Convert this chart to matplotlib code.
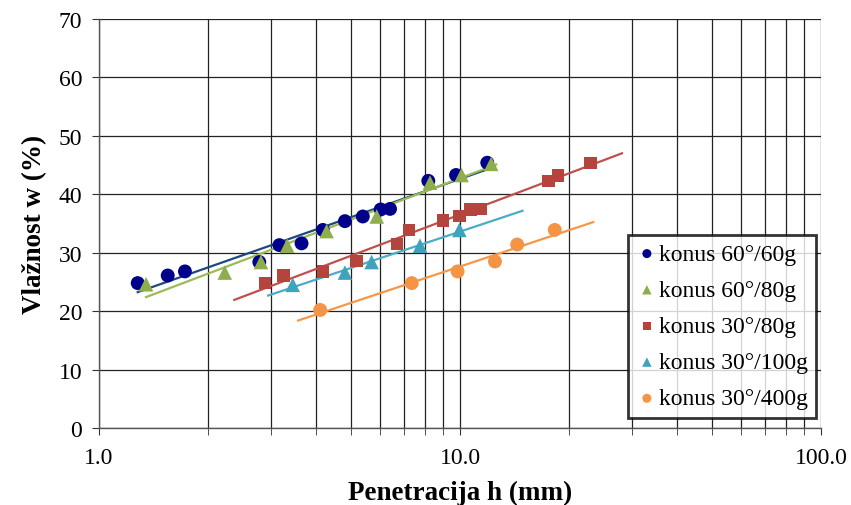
import numpy as np
import matplotlib
matplotlib.use("Agg")
import matplotlib.pyplot as plt
from matplotlib.ticker import FixedLocator, FuncFormatter, LogLocator, NullFormatter

# Cone penetration results: penetration h (mm) vs. water content w (%)
labels = ["konus 60°/60g", "konus 60°/80g", "konus 30°/80g",
          "konus 30°/100g", "konus 30°/400g"]

h_60_60 = [1.28, 1.55, 1.73, 2.78, 3.16, 3.64, 4.17, 4.80, 5.38, 6.03, 6.40, 8.17, 9.75, 11.9]
w_60_60 = [24.8, 26.1, 26.8, 28.4, 31.3, 31.6, 33.9, 35.4, 36.2, 37.4, 37.5, 42.3, 43.3, 45.4]

h_60_80 = [1.35, 2.23, 2.81, 3.32, 4.27, 5.88, 8.26, 10.1, 12.2]
w_60_80 = [24.6, 26.6, 28.4, 31.2, 33.7, 36.2, 42.0, 43.3, 45.2]

h_30_80 = [2.88, 3.24, 4.17, 5.17, 6.68, 7.22, 8.96, 9.96, 10.7, 11.4, 17.6, 18.7, 23.0]
w_30_80 = [24.8, 26.1, 26.8, 28.6, 31.5, 33.9, 35.5, 36.3, 37.4, 37.5, 42.3, 43.2, 45.4]

h_30_100 = [3.44, 4.80, 5.69, 7.75, 9.96]
w_30_100 = [24.5, 26.6, 28.4, 31.2, 33.9]

h_30_400 = [4.10, 7.35, 9.85, 12.5, 14.4, 18.3]
w_30_400 = [20.2, 24.8, 26.8, 28.5, 31.4, 33.9]

# span of each logarithmic trend line (mm)
trend_ranges = [(1.28, 11.9), (1.35, 12.6), (2.37, 28.1), (2.94, 14.9), (3.56, 23.4)]

x_ticks = [1.0, 10.0, 100.0]
y_ticks = [0, 10, 20, 30, 40, 50, 60, 70]

series = [
    (h_60_60, w_60_60, "o", "#00008B", "#1F497D", 100),
    (h_60_80, w_60_80, "^", "#8EAE4E", "#9BBB59", 110),
    (h_30_80, w_30_80, "s", "#B5443F", "#C0504D", 80),
    (h_30_100, w_30_100, "^", "#3FA3BE", "#4BACC6", 110),
    (h_30_400, w_30_400, "o", "#F59444", "#F79646", 100),
]

plt.rcParams["font.family"] = ["Liberation Serif", "DejaVu Serif"]

fig = plt.figure(figsize=(8.51, 5.06), dpi=100)
ax = fig.add_axes([99 / 851, 1 - 429 / 506, (821 - 99) / 851, (429 - 20) / 506])

ax.set_xscale("log")
ax.set_xlim(1, 100)
ax.set_ylim(0, 70)

# grid: major and minor verticals, horizontals every 10
ax.xaxis.set_major_locator(FixedLocator(x_ticks))
ax.xaxis.set_minor_locator(LogLocator(base=10, subs=np.arange(2, 10)))
ax.xaxis.set_minor_formatter(NullFormatter())
ax.xaxis.set_major_formatter(FuncFormatter(lambda v, p: f"{v:.1f}"))
ax.yaxis.set_major_locator(FixedLocator(y_ticks))
ax.grid(True, which="major", color="#222222", linewidth=0.9)
ax.grid(True, which="minor", axis="x", color="#222222", linewidth=0.9)
ax.set_axisbelow(True)

for s in ["top", "right"]:
    ax.spines[s].set_visible(False)
for s in ["left", "bottom"]:
    ax.spines[s].set_color("#555555")
    ax.spines[s].set_linewidth(1.0)

ax.tick_params(axis="both", which="both", direction="out", length=5,
               color="#333333", labelsize=17)
ax.tick_params(axis="y", which="major", pad=7)
ax.tick_params(axis="x", which="major", pad=9)

handles = []
for (h, w, m, mc, lc, size), lab, (t0, t1) in zip(series, labels, trend_ranges):
    h = np.asarray(h)
    w = np.asarray(w)
    k, b = np.polyfit(np.log(h), w, 1)
    xt = np.array([t0, t1])
    ax.plot(xt, k * np.log(xt) + b, color=lc, linewidth=1.6, zorder=3)
    sc = ax.scatter(h, w, marker=m, s=size, color=mc, edgecolors="none",
                    zorder=4, label=lab)
    handles.append(sc)

ax.set_xlabel("Penetracija h (mm)", fontsize=19.5, fontweight="bold", labelpad=8)
ax.set_ylabel("Vlažnost w (%)", fontsize=19.5, fontweight="bold", labelpad=8)

leg = ax.legend(handles=handles, loc="upper left",
                bbox_to_anchor=(628 / 851, 1 - 236 / 506),
                bbox_transform=fig.transFigure, fontsize=17,
                frameon=True, fancybox=False, markerscale=0.65,
                handletextpad=0.05, handlelength=0.9, borderpad=0.35,
                labelspacing=0.62, borderaxespad=0)
leg.get_frame().set_edgecolor("black")
leg.get_frame().set_linewidth(2.0)
leg.get_frame().set_facecolor("white")
leg.set_zorder(10)

fig.savefig("out.png", dpi=100)
